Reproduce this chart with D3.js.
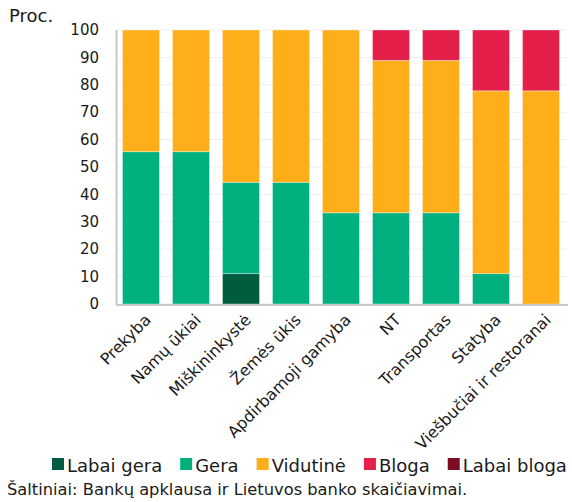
<!DOCTYPE html>
<html>
<head>
<meta charset="utf-8">
<script src="https://cdn.jsdelivr.net/npm/d3@7"></script>
<style>
  body { margin: 0; background: #fff; }
  text { font-family: "DejaVu Sans", Verdana, sans-serif; fill: #1a1a1a; }
</style>
</head>
<body>
<script>
// Sectors and shares (proc.) by assessment
let sectors = ["Prekyba", "Namų ūkiai", "Miškininkystė", "Žemės ūkis", "Apdirbamoji gamyba", "NT", "Transportas", "Statyba", "Viešbučiai ir restoranai"];
let labaiGera = [0, 0, 11.1, 0, 0, 0, 0, 0, 0];
let gera = [55.6, 55.6, 33.3, 44.4, 33.3, 33.3, 33.3, 11.1, 0];
let vidutine = [44.4, 44.4, 55.6, 55.6, 66.7, 55.6, 55.6, 66.7, 77.8];
let bloga = [0, 0, 0, 0, 0, 11.1, 11.1, 22.2, 22.2];
let labaiBloga = [0, 0, 0, 0, 0, 0, 0, 0, 0];

let seriesNames = ["Labai gera", "Gera", "Vidutinė", "Bloga", "Labai bloga"];
let seriesValues = [labaiGera, gera, vidutine, bloga, labaiBloga];
let colors = ["#005c3e", "#00b17f", "#fdae19", "#e31f4a", "#7b0d26"];
let yTicks = [0, 10, 20, 30, 40, 50, 60, 70, 80, 90, 100];

let width = 572, height = 502;

let svg = d3.select("body").append("svg")
  .attr("width", width)
  .attr("height", height);

let x = d3.scaleBand()
  .domain(sectors)
  .range([116, 566])
  .paddingInner(0.26)
  .paddingOuter(0.13);

let y = d3.scaleLinear()
  .domain([0, 100])
  .range([304, 30]);

// Gridlines
svg.append("g")
  .selectAll("line")
  .data(yTicks)
  .enter().append("line")
  .attr("x1", 116)
  .attr("x2", 566)
  .attr("y1", d => y(d))
  .attr("y2", d => y(d))
  .style("stroke", "#eeeeee")
  .style("stroke-width", 1);

// Y tick labels
svg.append("g")
  .selectAll("text")
  .data(yTicks)
  .enter().append("text")
  .attr("x", 99)
  .attr("y", d => y(d))
  .attr("dy", "0.35em")
  .attr("text-anchor", "end")
  .style("font-size", "15px")
  .text(d => d);

svg.append("text")
  .attr("x", 9)
  .attr("y", 22)
  .style("font-size", "18px")
  .text("Proc.");

// Stacked bars
let rows = sectors.map((s, i) => {
  let row = { sector: s };
  seriesNames.forEach((n, j) => { row[n] = seriesValues[j][i]; });
  return row;
});

let stack = d3.stack().keys(seriesNames)(rows);

svg.append("g")
  .selectAll("g")
  .data(stack)
  .enter().append("g")
  .style("fill", (d, i) => colors[i])
  .selectAll("rect")
  .data(d => d.filter(p => p[1] - p[0] > 0))
  .enter().append("rect")
  .attr("x", d => x(d.data.sector))
  .attr("y", d => y(d[1]))
  .attr("width", x.bandwidth())
  .attr("height", d => y(d[0]) - y(d[1]))
  .style("stroke", "rgba(255,255,255,0.35)")
  .style("stroke-width", 1);

// Axis lines
svg.append("line")
  .attr("x1", 116.5).attr("x2", 116.5)
  .attr("y1", y(100)).attr("y2", y(0) + 1)
  .style("stroke", "#c8c8c8")
  .style("stroke-width", 2);

svg.append("line")
  .attr("x1", 116).attr("x2", 568)
  .attr("y1", y(0) + 1).attr("y2", y(0) + 1)
  .style("stroke", "#c8c8c8")
  .style("stroke-width", 2);

// X labels, rotated
svg.append("g")
  .selectAll("text")
  .data(sectors)
  .enter().append("text")
  .attr("transform", d => "translate(" + (x(d) + x.bandwidth() / 2 + 3) + "," + 313 + ") rotate(-45)")
  .attr("text-anchor", "end")
  .attr("dy", "0.7em")
  .style("font-size", "16px")
  .text(d => d);

// Legend
let legend = svg.append("g")
  .attr("transform", "translate(52,458)");

let lx = 0;
seriesNames.forEach((name, i) => {
  let item = legend.append("g").attr("transform", "translate(" + lx + ",0)");
  item.append("rect")
    .attr("width", 12)
    .attr("height", 12)
    .style("fill", colors[i]);
  let t = item.append("text")
    .attr("x", 15)
    .attr("y", 14)
    .style("font-size", "18px")
    .text(name);
  lx += 15 + t.node().getComputedTextLength() + 18;
});

svg.append("text")
  .attr("x", 7)
  .attr("y", 495)
  .style("font-size", "16.3px")
  .text("Šaltiniai: Bankų apklausa ir Lietuvos banko skaičiavimai.");
</script>
</body>
</html>
